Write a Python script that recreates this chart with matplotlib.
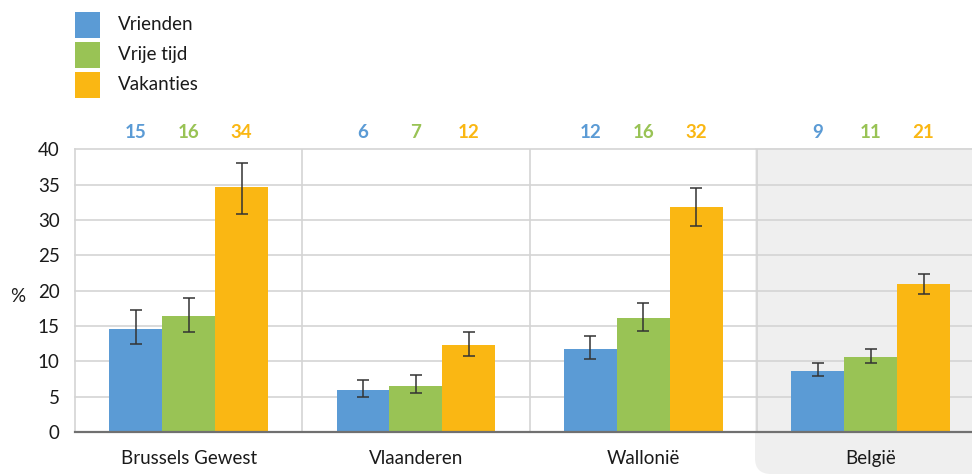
import numpy as np
import matplotlib
matplotlib.use("Agg")
import matplotlib.pyplot as plt
from matplotlib.patches import Rectangle, PathPatch
from matplotlib.path import Path
from matplotlib.transforms import IdentityTransform, blended_transform_factory

plt.rcParams['font.family'] = ['Lato', 'DejaVu Sans']

# Data
regions = ['Brussels Gewest', 'Vlaanderen', 'Wallonië', 'België']
series_names = ['Vrienden', 'Vrije tijd', 'Vakanties']
colors = ['#5B9BD5', '#99C355', '#FAB713']

vrienden = [14.6, 5.9, 11.8, 8.6]
vrienden_low = [12.4, 4.9, 10.3, 7.9]
vrienden_high = [17.3, 7.4, 13.6, 9.7]

vrije_tijd = [16.4, 6.5, 16.1, 10.6]
vrije_tijd_low = [14.2, 5.5, 14.3, 9.7]
vrije_tijd_high = [19.0, 8.1, 18.2, 11.7]

vakanties = [34.6, 12.3, 31.9, 21.0]
vakanties_low = [30.8, 10.8, 29.1, 19.5]
vakanties_high = [38.0, 14.2, 34.5, 22.3]

top_labels = [[15, 6, 12, 9], [16, 7, 16, 11], [34, 12, 32, 21]]

values = [vrienden, vrije_tijd, vakanties]
lows = [vrienden_low, vrije_tijd_low, vakanties_low]
highs = [vrienden_high, vrije_tijd_high, vakanties_high]

W, H = 972, 474
fig = plt.figure(figsize=(W / 100, H / 100), dpi=100)

# shaded background behind "België" with rounded bottom-left corner (pixel coords)
x0, ytop, r = 755, H - 148, 16
verts = [(x0, ytop), (x0, r), (x0, 0), (x0 + r, 0), (W + 10, 0), (W + 10, ytop), (x0, ytop)]
codes = [Path.MOVETO, Path.LINETO, Path.CURVE3, Path.CURVE3, Path.LINETO, Path.LINETO, Path.CLOSEPOLY]
fig.patches.append(PathPatch(Path(verts, codes), facecolor='#EFEFEF', edgecolor='none',
                             transform=IdentityTransform(), zorder=0))

ax_left, ax_bottom = 75 / W, 1 - 432 / H
ax_h = (432 - 149.3) / H
ax = fig.add_axes([ax_left, ax_bottom, 1 - ax_left, ax_h])
ax.set_facecolor('none')
ax.set_zorder(2)

cat_w = 227.3
ax.set_xlim(-0.5, -0.5 + (W - 75) / cat_w)
ax.set_ylim(0, 40)

x = np.arange(len(regions))
bw = 0.233
for i in range(3):
    pos = x + (i - 1) * bw
    vals = np.array(values[i])
    yerr = [vals - np.array(lows[i]), np.array(highs[i]) - vals]
    ax.bar(pos, vals, width=bw, color=colors[i], zorder=2)
    ax.errorbar(pos, vals, yerr=yerr, fmt='none', ecolor='#333333', elinewidth=1.1,
                capsize=4, capthick=1.1, zorder=3)

# grid
for yv in range(0, 45, 5):
    ax.axhline(yv, color='#D4D4D4', lw=1.2, zorder=1, clip_on=False)
for xv in [0.5, 1.5, 2.5]:
    ax.axvline(xv, color='#D4D4D4', lw=1.2, zorder=1)

for s in ['top', 'right']:
    ax.spines[s].set_visible(False)
ax.spines['left'].set_color('#D4D4D4')
ax.spines['left'].set_linewidth(1.2)
ax.spines['bottom'].set_color('#707070')
ax.spines['bottom'].set_linewidth(1.6)
ax.spines['bottom'].set_zorder(4)

ax.set_yticks(range(0, 45, 5))
ax.set_xticks(x)
ax.set_xticklabels(regions)
ax.tick_params(axis='both', length=0, labelsize=13.5, colors='#1a1a1a')
ax.tick_params(axis='y', pad=11)
ax.tick_params(axis='x', pad=13)

fig.text(18 / W, 1 - 297 / H, '%', fontsize=13.5, ha='center', va='center', color='#1a1a1a')

# value labels above the plot
trans = blended_transform_factory(ax.transData, ax.transAxes)
for i in range(3):
    for j, lab in enumerate(top_labels[i]):
        ax.text(x[j] + (i - 1) * bw, 1 + 17 / 282.7, str(lab), transform=trans,
                ha='center', va='center', fontsize=13.5, fontweight='bold', color=colors[i])

# legend
for i, name in enumerate(series_names):
    ytop_px = 12 + 30 * i
    fig.add_artist(Rectangle((75 / W, 1 - (ytop_px + 25.5) / H), 25 / W, 25.5 / H,
                             transform=fig.transFigure, facecolor=colors[i], edgecolor='none'))
    fig.text(118 / W, 1 - (ytop_px + 12.5) / H, name, fontsize=13.5, ha='left', va='center',
             color='#1a1a1a')

fig.savefig('out.png', dpi=100)
